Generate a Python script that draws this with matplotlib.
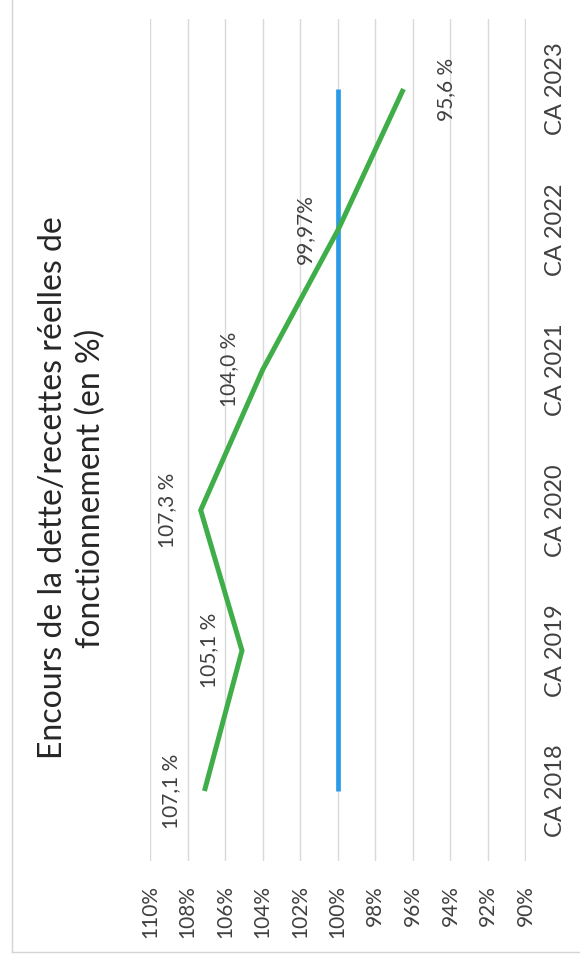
import matplotlib
matplotlib.use("Agg")
import matplotlib.pyplot as plt
from matplotlib.lines import Line2D

categories = ["CA 2018", "CA 2019", "CA 2020", "CA 2021", "CA 2022", "CA 2023"]
ratio_values = [107.1, 105.1, 107.3, 104.0, 99.97, 96.5]
ratio_labels = ["107,1 %", "105,1 %", "107,3 %", "104,0 %", "99,97%", "95,6 %"]
reference_values = [100, 100, 100, 100, 100, 100]
value_ticks = [110, 108, 106, 104, 102, 100, 98, 96, 94, 92, 90]
value_tick_labels = ["110%", "108%", "106%", "104%", "102%", "100%", "98%", "96%", "94%", "92%", "90%"]
title = "Encours de la dette/recettes réelles de\nfonctionnement (en %)"

FONT = ["Lato", "DejaVu Sans"]
plt.rcParams["font.family"] = FONT
TXT = "#404040"

fig = plt.figure(figsize=(5.8, 9.66), dpi=100)
fig.patch.set_facecolor("white")

# chart border
fig.add_artist(Line2D([12/580, 12/580], [1, (966-952)/966], transform=fig.transFigure, color="#d4d4d4", lw=1))
fig.add_artist(Line2D([12/580, 1], [(966-952)/966, (966-952)/966], transform=fig.transFigure, color="#d4d4d4", lw=1))

ax = fig.add_axes([150/580, (966-861.2)/966, 375.5/580, (861.2-18.8)/966])
pos = list(range(len(categories)))

ax.plot(reference_values, pos, color="#2b9be8", lw=3.4, solid_capstyle="butt", zorder=3)
ax.plot(ratio_values, pos, color="#3fae49", lw=3.6, solid_capstyle="butt", solid_joinstyle="miter", zorder=4)

for i, (v, lab) in enumerate(zip(ratio_values, ratio_labels)):
    off = -24 if i < len(categories) - 1 else 31
    ax.annotate(lab, (v, i), xytext=(off, 0), textcoords="offset points",
                rotation=90, ha="center", va="center", fontsize=15, color=TXT)

ax.set_xlim(110, 90)
ax.set_ylim(-0.5, len(categories) - 0.5)
ax.set_xticks(value_ticks)
ax.set_xticklabels(value_tick_labels, rotation=90, fontsize=15, color=TXT)
ax.yaxis.tick_right()
ax.set_yticks(pos)
ax.set_yticklabels(categories, rotation=90, fontsize=17, color=TXT, va="center")
ax.tick_params(axis="x", length=0, pad=17)
ax.tick_params(axis="y", length=0, pad=14)
ax.grid(axis="x", color="#d9d9d9", lw=1)
ax.set_axisbelow(True)
for s in ax.spines.values():
    s.set_visible(False)

fig.text(72/580, (966-488)/966, title, rotation=90, ha="center", va="center",
         multialignment="center", fontsize=23, color="#262626", linespacing=1.3)

fig.savefig("out.png", dpi=100, facecolor="white")
